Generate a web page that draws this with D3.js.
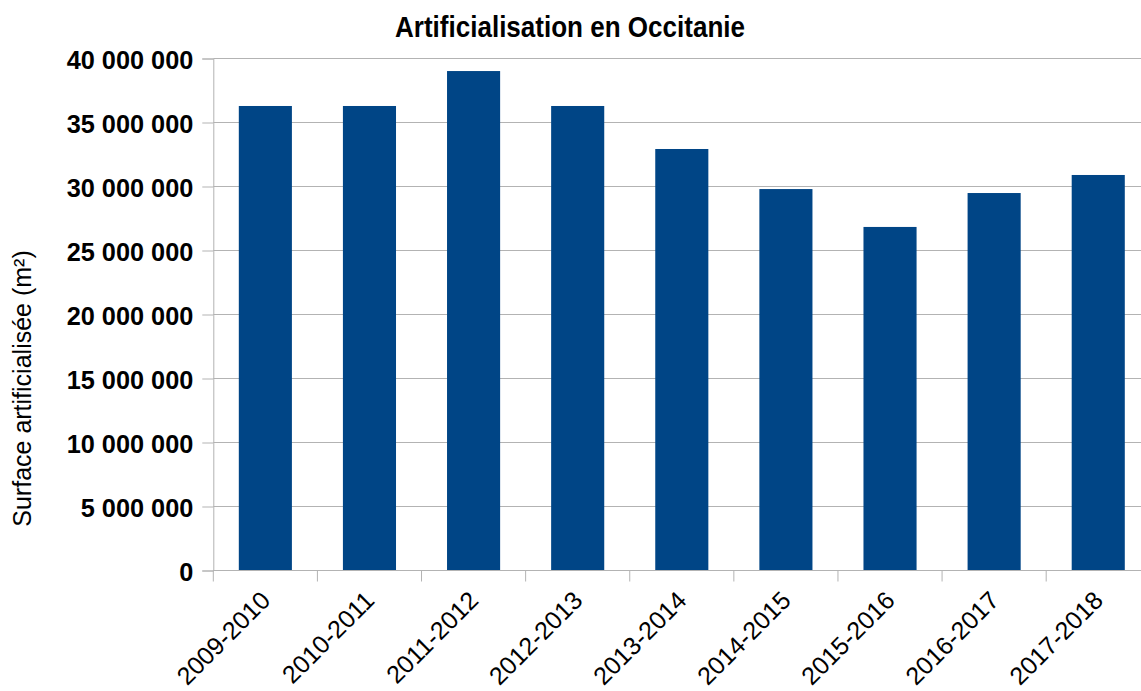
<!DOCTYPE html>
<html><head><meta charset="utf-8">
<script src="https://cdn.jsdelivr.net/npm/d3@7"></script>
<style>
html,body{margin:0;padding:0;background:#fff;}
svg{display:block;}
text{font-family:"Liberation Sans",Arial,sans-serif;fill:#000;}
</style></head>
<body>
<script>
const categories = ["2009-2010","2010-2011","2011-2012","2012-2013","2013-2014","2014-2015","2015-2016","2016-2017","2017-2018"];
const values = [36290000,36290000,39020000,36290000,32930000,29800000,26840000,29490000,30900000];
const yTicks = [0,5000000,10000000,15000000,20000000,25000000,30000000,35000000,40000000];
const title = "Artificialisation en Occitanie";
const yLabel = "Surface artificialisée (m²)";

(function(){
const W = 1141, H = 691;
const pLeft = 213.3, pRight = 1150.3, pTop = 58.5, pBottom = 570.5;
const svg = d3.select("body").append("svg").attr("width", W).attr("height", H);

const x = d3.scaleBand().domain(categories).range([pLeft, pRight]).paddingInner(0.49).paddingOuter(0.245);
const xb = d3.scaleBand().domain(categories).range([pLeft, pRight]).padding(0);
const y = d3.scaleLinear().domain([0, 40000000]).range([pBottom, pTop]);

const fmt = v => d3.format(",")(v).replace(/,/g, " ");
const sx = 0.955;

// gridlines
svg.append("g").selectAll("line").data(yTicks).join("line")
  .attr("x1", pLeft).attr("x2", pRight)
  .attr("y1", d => y(d)).attr("y2", d => y(d))
  .attr("stroke", "#b3b3b3").attr("stroke-width", 1);

// bars
svg.append("g").selectAll("rect").data(categories).join("rect")
  .attr("x", d => x(d)).attr("width", x.bandwidth())
  .attr("y", (d, i) => y(values[i])).attr("height", (d, i) => y(0) - y(values[i]))
  .attr("fill", "#004586");

// y axis
const yAxis = svg.append("g").attr("transform", `translate(${pLeft},0)`)
  .call(d3.axisLeft(y).tickValues(yTicks).tickFormat(fmt).tickSize(11).tickPadding(9));
yAxis.select(".domain").attr("stroke", "#b3b3b3");
yAxis.selectAll(".tick line").attr("stroke", "#b3b3b3");
yAxis.selectAll(".tick text").attr("font-size", "26.5px").attr("font-weight", "bold")
  .attr("font-family", "'Liberation Sans', Arial, sans-serif").attr("fill", "#000")
  .attr("x", -20 / sx).attr("dy", "0.36em").attr("transform", `scale(${sx},1)`);

// x axis (ticks at band boundaries)
const xg = svg.append("g");
xg.append("line").attr("x1", pLeft).attr("x2", pRight).attr("y1", pBottom).attr("y2", pBottom).attr("stroke", "#b3b3b3");
xg.selectAll("line.tk").data(categories).join("line").attr("class", "tk")
  .attr("x1", d => xb(d)).attr("x2", d => xb(d)).attr("y1", pBottom).attr("y2", pBottom + 11)
  .attr("stroke", "#b3b3b3");
xg.selectAll("text").data(categories).join("text")
  .attr("transform", d => `translate(${xb(d) + xb.bandwidth() / 2 - 6},${pBottom + 19}) rotate(-45)`)
  .attr("text-anchor", "end").attr("dy", "0.7em")
  .attr("font-size", "25px").text(d => d);

// title
svg.append("text").attr("x", 570).attr("y", 37).attr("text-anchor", "middle")
  .attr("font-size", "29px").attr("font-weight", "bold")
  .attr("textLength", 350).attr("lengthAdjust", "spacingAndGlyphs").text(title);

// y label
svg.append("text").attr("transform", `translate(31,388.5) rotate(-90)`)
  .attr("text-anchor", "middle").attr("font-size", "25px").text(yLabel);
})();
</script>
</body></html>
